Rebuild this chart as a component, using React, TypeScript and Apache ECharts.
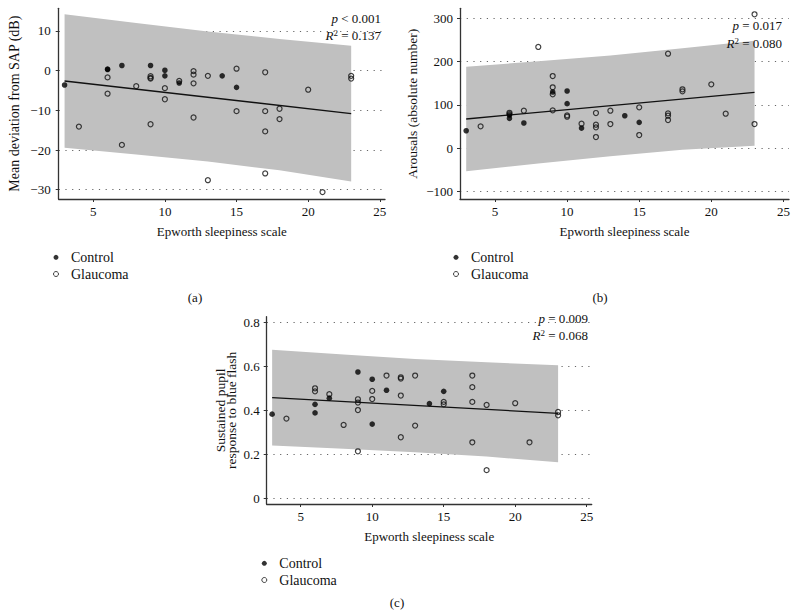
import React, { useEffect, useRef } from "react";
import * as echarts from "echarts";

const FONT = '"Liberation Serif", "DejaVu Serif", "Times New Roman", serif';

// Epworth sleepiness scale values of the subjects
const controlX = [3, 6, 6, 7, 9, 10, 10, 11, 14, 15];
const glaucomaX = [4, 6, 6, 7, 8, 9, 9, 9, 9, 10, 10, 11, 12, 12, 12, 12, 13, 13, 15, 15, 17, 17, 17, 17, 18, 18, 20, 21, 23, 23];

// (a) Mean deviation from SAP (dB)
const controlA = [-3.6, 0.4, 0.3, 1.3, 1.3, 0.1, -1.3, -3.1, -1.3, -4.2];
const glaucomaA = [-14.1, -1.7, -5.8, -18.7, -3.9, -1.4, -1.8, -2.0, -13.5, -4.4, -7.2, -2.6, -0.1, -1.0, -3.2, -11.8, -1.3, -27.6, 0.5, -10.2, -0.4, -10.2, -15.3, -25.9, -9.6, -12.2, -4.8, -30.6, -1.3, -2.0];

// (b) Arousals (absolute number)
const controlB = [40.6, 76.9, 69.2, 58.4, 129.9, 132.2, 103, 46.8, 75.3, 60];
const glaucomaB = [50.8, 82, 79, 86.8, 233.8, 166.8, 140.8, 124.6, 87.7, 76.2, 73, 56.8, 81.5, 54.5, 48.5, 26.1, 86.8, 56.1, 94.6, 30.7, 218.3, 80.8, 75.3, 65.3, 136.2, 131.5, 147.7, 79.9, 309.2, 56.1];

// (c) Sustained pupil response to blue flash
const controlC = [0.383, 0.428, 0.389, 0.456, 0.575, 0.542, 0.338, 0.492, 0.431, 0.487];
const glaucomaC = [0.363, 0.501, 0.487, 0.474, 0.334, 0.451, 0.436, 0.402, 0.214, 0.489, 0.452, 0.559, 0.551, 0.545, 0.468, 0.278, 0.559, 0.331, 0.439, 0.428, 0.559, 0.506, 0.439, 0.255, 0.425, 0.128, 0.433, 0.255, 0.393, 0.378];

// regression lines
const fitX = [3, 23];
const fitA = [-2.6, -10.8];
const fitB = [67.7, 129];
const fitC = [0.458, 0.387];

// prediction bands
const bandX = [3, 8, 13, 18, 23];
const bandAHi = [14.2, 12.0, 9.9, 8.0, 6.3];
const bandALo = [-19.4, -21.1, -22.9, -25.1, -27.9];
const bandBHi = [188, 201, 214, 231, 248];
const bandBLo = [-53, -35, -18, -3, 6];
const bandCHi = [0.676, 0.655, 0.634, 0.619, 0.606];
const bandCLo = [0.24, 0.226, 0.21, 0.19, 0.164];

// tick labels
const xTicks = [5, 10, 15, 20, 25];
const yTicksA = [-30, -20, -10, 0, 10];
const yTicksB = [-100, 0, 100, 200, 300];
const yTicksC = [0, 0.2, 0.4, 0.6, 0.8];

const statsA = ["< 0.001", "0.137"];
const statsB = ["= 0.017", "0.080"];
const statsC = ["= 0.009", "0.068"];

const xName = "Epworth sleepiness scale";

const panels = [
  {
    grid: { left: 58.7, top: 8.3, width: 326.3, height: 190.7 },
    xMin: 2.59, xMax: 25.36, yMin: -32.34, yMax: 15.72,
    yTicks: yTicksA, yName: "Mean deviation from SAP (dB)", yNameSize: 14, yNameGap: 37, yNameLH: 14, labelMargin: 8,
    control: controlA, glaucoma: glaucomaA, fit: fitA, hi: bandAHi, lo: bandALo,
    stats: statsA, statX: 381, statY: [18, 35],
    legend: { left: 53, top: 250.3 }, tag: "(a)", tagPos: [195, 297],
  },
  {
    grid: { left: 460, top: 8.3, width: 329, height: 190.7 },
    xMin: 2.57, xMax: 25.39, yMin: -116.8, yMax: 323,
    yTicks: yTicksB, yName: "Arousals (absolute number)", yNameSize: 13.5, yNameGap: 41, yNameLH: 14, labelMargin: 7,
    control: controlB, glaucoma: glaucomaB, fit: fitB, hi: bandBHi, lo: bandBLo,
    stats: statsB, statX: 782, statY: [25, 43],
    legend: { left: 453, top: 250.3 }, tag: "(b)", tagPos: [600, 297],
  },
  {
    grid: { left: 266.7, top: 316.7, width: 325, height: 187.3 },
    xMin: 2.62, xMax: 25.35, yMin: -0.026, yMax: 0.827,
    yTicks: yTicksC, yName: "Sustained pupil\nresponse to blue flash", yNameSize: 13.5, yNameGap: 29, yNameLH: 11.5, labelMargin: 7,
    control: controlC, glaucoma: glaucomaC, fit: fitC, hi: bandCHi, lo: bandCLo,
    stats: statsC, statX: 588, statY: [318, 335],
    legend: { left: 261.3, top: 556.3 }, tag: "(c)", tagPos: [397, 602],
  },
];

const fmt = (v: number) => (v < 0 ? "\u2212" + Math.abs(v) : String(v));

function buildOption() {
  const grid: any[] = [];
  const xAxis: any[] = [];
  const yAxis: any[] = [];
  const series: any[] = [];
  const legend: any[] = [];
  const graphic: any[] = [];
  const axisColor = "#333";
  const textColor = "#111";

  panels.forEach((p, i) => {
    grid.push({ ...p.grid, containLabel: false });
    xAxis.push({
      type: "value", gridIndex: i, min: p.xMin, max: p.xMax,
      axisLine: { show: true, onZero: false, lineStyle: { color: axisColor, width: 1.3 } },
      axisTick: { show: true, length: 3, customValues: xTicks, lineStyle: { color: axisColor, width: 1 } },
      axisLabel: { customValues: xTicks, margin: 6, fontFamily: FONT, fontSize: 13, color: textColor },
      splitLine: { show: false },
      name: xName, nameLocation: "middle", nameGap: 26,
      nameTextStyle: { fontFamily: FONT, fontSize: 13, color: textColor },
    });
    yAxis.push({
      type: "value", gridIndex: i, min: p.yMin, max: p.yMax,
      axisLine: { show: true, onZero: false, lineStyle: { color: axisColor, width: 1.3 } },
      axisTick: { show: true, length: 3, customValues: p.yTicks, lineStyle: { color: axisColor, width: 1 } },
      axisLabel: { customValues: p.yTicks, margin: p.labelMargin, fontFamily: FONT, fontSize: 13, color: textColor, formatter: fmt },
      splitLine: { show: true, lineStyle: { type: [1.2, 5.5], color: "#666", width: 1.2 } },
      name: p.yName, nameLocation: "middle", nameGap: p.yNameGap,
      nameTextStyle: { fontFamily: FONT, fontSize: p.yNameSize, lineHeight: p.yNameLH, color: textColor, align: "center" },
    });
    const hi = p.hi;
    const lo = p.lo;
    series.push({
      type: "custom", name: "band" + i, xAxisIndex: i, yAxisIndex: i, silent: true,
      data: bandX.map((x, k) => [x, lo[k], hi[k]]),
      renderItem: (params: any, api: any) => {
        if (params.dataIndex !== 0) return null;
        const pts: number[][] = [];
        for (let k = 0; k < bandX.length; k++) pts.push(api.coord([bandX[k], hi[k]]));
        for (let k = bandX.length - 1; k >= 0; k--) pts.push(api.coord([bandX[k], lo[k]]));
        return { type: "polygon", shape: { points: pts }, style: { fill: "#c0c0c0", stroke: null } };
      },
      z: 1,
    });
    series.push({
      type: "line", name: "fit" + i, xAxisIndex: i, yAxisIndex: i, silent: true,
      data: fitX.map((x, k) => [x, p.fit[k]]), symbol: "none",
      lineStyle: { color: "#111", width: 1.3 }, z: 2,
    });
    series.push({
      type: "scatter", name: "Glaucoma", xAxisIndex: i, yAxisIndex: i,
      data: glaucomaX.map((x, k) => [x, p.glaucoma[k]]),
      symbol: "circle", symbolSize: 5,
      itemStyle: { color: "rgba(0,0,0,0)", borderColor: "#111", borderWidth: 1.2 }, z: 3,
    });
    series.push({
      type: "scatter", name: "Control", xAxisIndex: i, yAxisIndex: i,
      data: controlX.map((x, k) => [x, p.control[k]]),
      symbol: "circle", symbolSize: 5.6,
      itemStyle: { color: "#000", borderWidth: 0 }, z: 4,
    });
    legend.push({
      left: p.legend.left, top: p.legend.top, orient: "vertical", padding: 0,
      itemWidth: 14, itemHeight: 5, itemGap: 2.7, selectedMode: false,
      textStyle: { fontFamily: FONT, fontSize: 14, lineHeight: 14, color: textColor, padding: [0, 0, 0, 3] },
      data: [
        { name: "Control", icon: "circle", itemStyle: { color: "#000", borderWidth: 0 } },
        { name: "Glaucoma", icon: "circle", itemStyle: { color: "rgba(0,0,0,0)", borderColor: "#111", borderWidth: 1 } },
      ],
    });
    graphic.push({
      type: "text", x: p.statX, y: p.statY[0], z: 100,
      style: {
        text: "{i|p} " + p.stats[0], align: "right", verticalAlign: "middle",
        fontFamily: FONT, fontSize: 13, fill: textColor,
        rich: { i: { fontFamily: FONT, fontSize: 13, fontStyle: "italic" } },
      },
    });
    graphic.push({
      type: "text", x: p.statX, y: p.statY[1], z: 100,
      style: {
        text: "{i|R}{s|2} = " + p.stats[1], align: "right", verticalAlign: "middle",
        fontFamily: FONT, fontSize: 13, fill: textColor,
        rich: {
          i: { fontFamily: FONT, fontSize: 13, fontStyle: "italic", lineHeight: 14 },
          s: { fontFamily: FONT, fontSize: 9, verticalAlign: "top", lineHeight: 14 },
        },
      },
    });
    graphic.push({
      type: "text", x: p.tagPos[0], y: p.tagPos[1], z: 100,
      style: { text: p.tag, align: "center", verticalAlign: "middle", fontFamily: FONT, fontSize: 13, fill: textColor },
    });
  });

  return { animation: false, backgroundColor: "#fff", grid, xAxis, yAxis, series, legend, graphic };
}

export default function App() {
  const ref = useRef<HTMLDivElement>(null);
  useEffect(() => {
    const chart = echarts.init(ref.current!, null, { renderer: "svg" });
    chart.setOption(buildOption() as any);
    return () => chart.dispose();
  }, []);
  return (
    <div
      ref={ref}
      style={{ position: "fixed", left: 0, top: 0, width: 800, height: 616, background: "#fff" }}
    />
  );
}
